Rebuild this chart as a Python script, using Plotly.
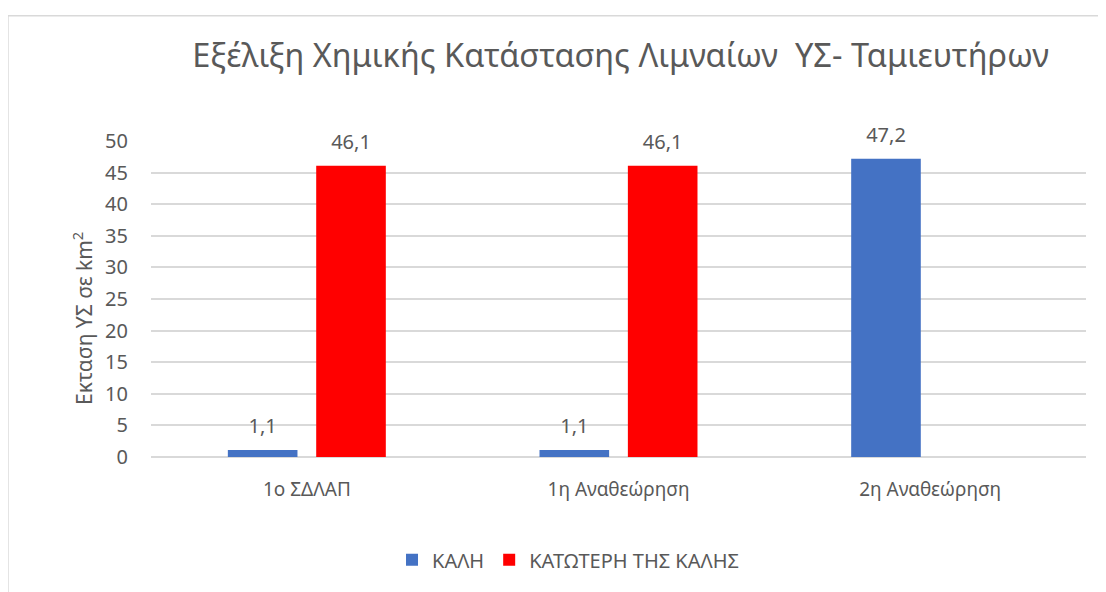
import plotly.graph_objects as go

categories = ["1ο ΣΔΛΑΠ", "1η Αναθεώρηση", "2η Αναθεώρηση"]
kali = [1.1, 1.1, 47.2]
katoteri = [46.1, 46.1, None]
series_names = ["ΚΑΛΗ", "ΚΑΤΩΤΕΡΗ ΤΗΣ ΚΑΛΗΣ"]
series_colors = ["#4472C4", "#FF0000"]
y_ticks = [0, 5, 10, 15, 20, 25, 30, 35, 40, 45, 50]
y_title = "Εκταση ΥΣ σε km<sup>2</sup>"

FONT = "Noto Sans"
GREY = "#595959"
GAP = 0.433

fig = go.Figure()
for name, vals, col in zip(series_names, [kali, katoteri], series_colors):
    fig.add_trace(go.Bar(
        x=categories, y=vals, name=name, offsetgroup=name,
        marker=dict(color=col, line=dict(width=0)),
    ))
# data labels, grouped like the bars
for name, vals in zip(series_names, [kali, katoteri]):
    fig.add_trace(go.Scatter(
        x=categories, y=vals, mode="markers+text", offsetgroup=name,
        marker=dict(size=17, color="rgba(0,0,0,0)"),
        texttemplate="%{y:.1f}", textposition="top center",
        textfont=dict(size=20, color=GREY, family=FONT),
        showlegend=False, hoverinfo="skip", cliponaxis=False,
    ))

fig.update_layout(
    width=1098, height=584,
    margin=dict(l=143, r=20, t=133, b=135),
    paper_bgcolor="white", plot_bgcolor="white",
    separators=",.",
    barmode="group", bargap=GAP, bargroupgap=0.212,
    scattermode="group", scattergap=GAP,
    font=dict(family=FONT, color=GREY, size=19),
    title=dict(text="Εξέλιξη Χημικής Κατάστασης Λιμναίων  ΥΣ- Ταμιευτήρων",
               x=0.558, xanchor="center", y=0.919, yanchor="middle",
               font=dict(size=32.5, color=GREY, family=FONT)),
    showlegend=True,
    legend=dict(orientation="h", x=0.446, xanchor="center", y=-0.325, yanchor="middle",
                font=dict(size=20, color=GREY, family=FONT), traceorder="normal",
                itemwidth=30),
    xaxis=dict(showgrid=False, showline=False, ticks="", ticklabelstandoff=19,
               tickfont=dict(size=19, color=GREY)),
    yaxis=dict(range=[0, 50], tickvals=y_ticks, showgrid=True, gridcolor="#D9D9D9",
               gridwidth=1.5, zeroline=True, zerolinecolor="#D9D9D9", zerolinewidth=1.5,
               ticks="", ticklabelstandoff=22, tickfont=dict(size=20, color=GREY)),
    annotations=[dict(text=y_title, textangle=-90, xref="paper", yref="paper",
                      x=-0.0728, y=0.44, xanchor="center", yanchor="middle",
                      showarrow=False, font=dict(size=21, color=GREY, family=FONT))],
    shapes=[dict(type="rect", xref="paper", yref="paper",
                 x0=-0.153, x1=1.0214, y0=-0.5, y1=1.396,
                 line=dict(color="#D9D9D9", width=1.5), layer="below")],
)

fig.write_html("out.html")
